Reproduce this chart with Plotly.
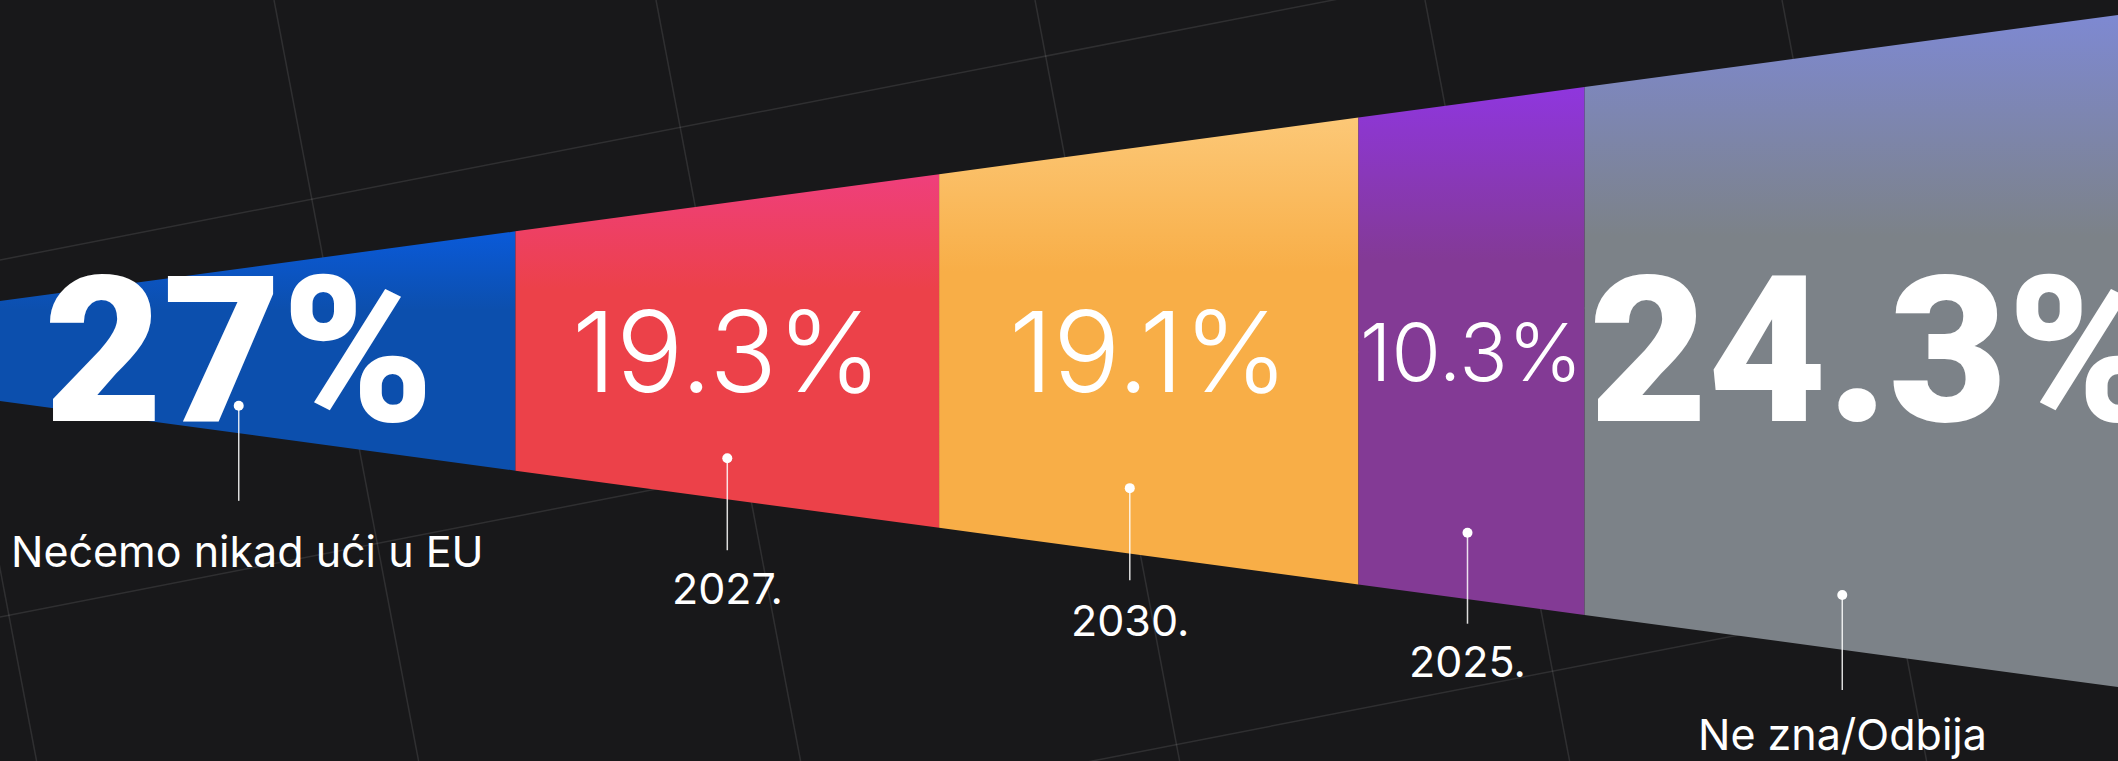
import plotly.graph_objects as go

# ---------------- data ----------------
categories = ["Nećemo nikad ući u EU", "2027.", "2030.", "2025.", "Ne zna/Odbija"]
values = [27.0, 19.3, 19.1, 10.3, 24.3]
value_labels = ["27%", "19.3%", "19.1%", "10.3%", "24.3%"]

# ---------------- style ----------------
W, H = 2118, 761
X_MIN, X_MAX = 3.52, 100.0          # visible part of the cumulative % axis
CENTER_Y = 351                       # wedge centre line (pixel rows on y axis)
HALF0 = 39.6                         # wedge half-height at 0 %
GROWTH = 2.964                       # half-height growth per %
BG = "#18181a"

colors_main = ["#0c4fad", "#ec4149", "#f8ae47", "#833a95", "#7c8288"]
colors_top = ["#0a5ad9", "#ef3f7c", "#fcc877", "#8f36de", "#7e89d2"]
heavy = [True, False, False, False, True]
pct_sizes = [205, 112, 112, 80, 205]
pct_anchor = ["center", "center", "center", "center", "left"]
pct_xshift = [-19, 0, 0, 0, 2]
pct_yshift = [0, 0, 0, 0, 0]
dot_xshift = [-19, 0, -19, -4, -9]
text_xshift = [-10, 0, -19, -4, -9]
dot_offset = [-30, -41, -68, -67, -56]      # leader dot relative to wedge bottom
line_end_offset = [65, 51, 24, 24, 39]       # leader end relative to wedge bottom
text_offset = [115, 89, 64, 61, 83]          # label centre relative to wedge bottom

FONT = "Inter"
HEAVY_FONT = "Roboto"


def half(p):
    return HALF0 + GROWTH * p


def top(p):
    return CENTER_Y - half(p)


def bottom(p):
    return CENTER_Y + half(p)


fig = go.Figure()

# background perspective grid (decorative)
grid_color = "rgba(255,255,255,0.10)"
for c in [260, 617, 974]:
    x0, x1 = 0, W
    fig.add_shape(type="line", xref="paper", yref="paper", layer="below",
                  x0=x0 / W, x1=x1 / W,
                  y0=1 - (c - 0.195 * x0) / H, y1=1 - (c - 0.195 * x1) / H,
                  line=dict(color=grid_color, width=1.5))
for x0 in [-108, 274, 656, 1035, 1425, 1782]:
    fig.add_shape(type="line", xref="paper", yref="paper", layer="below",
                  x0=x0 / W, x1=(x0 + 0.19 * H) / W, y0=1, y1=0,
                  line=dict(color=grid_color, width=1.5))

# segments
starts = []
acc = 0.0
for v in values:
    starts.append(acc)
    acc += v

for i, v in enumerate(values):
    a, b = starts[i], starts[i] + v
    fig.add_trace(go.Scatter(
        x=[a, b, b, a, a],
        y=[top(a), top(b), bottom(b), bottom(a), top(a)],
        mode="lines", fill="toself",
        line=dict(width=0, color=colors_main[i]),
        fillcolor=colors_main[i],
        fillgradient=dict(type="vertical",
                          colorscale=[[0, colors_main[i]], [0.67, colors_main[i]], [1, colors_top[i]]]),
        hoverinfo="skip", showlegend=False,
    ))

# labels
pxw = (X_MAX - X_MIN) / W              # % per pixel
for i, v in enumerate(values):
    a, b = starts[i], starts[i] + v
    mid = (max(a, X_MIN) + min(b, X_MAX)) / 2
    bt = bottom(mid)
    dx = mid + dot_xshift[i] * pxw
    tx = mid + text_xshift[i] * pxw
    # leader line + dot
    fig.add_trace(go.Scatter(
        x=[dx, dx], y=[bt + dot_offset[i], bt + line_end_offset[i]],
        mode="lines", line=dict(color="rgba(255,255,255,0.85)", width=1.5),
        hoverinfo="skip", showlegend=False))
    fig.add_trace(go.Scatter(
        x=[dx], y=[bt + dot_offset[i]], mode="markers",
        marker=dict(color="white", size=10),
        hoverinfo="skip", showlegend=False))
    fig.add_annotation(x=tx, y=bt + text_offset[i], xref="x", yref="y",
                       text=categories[i], showarrow=False,
                       xanchor="center", yanchor="middle",
                       font=dict(family=FONT, size=43, color="white", weight=400))
    # percentage text
    px = mid if pct_anchor[i] == "center" else a
    fig.add_annotation(x=px, y=CENTER_Y, xref="x", yref="y",
                       text=value_labels[i], showarrow=False,
                       xanchor=pct_anchor[i], yanchor="middle",
                       xshift=pct_xshift[i], yshift=pct_yshift[i],
                       font=dict(family=HEAVY_FONT if heavy[i] else FONT,
                                 size=pct_sizes[i], color="white",
                                 weight=900 if heavy[i] else 300))

fig.update_layout(
    width=W, height=H,
    margin=dict(l=0, r=0, t=0, b=0),
    paper_bgcolor=BG, plot_bgcolor=BG,
    xaxis=dict(range=[X_MIN, X_MAX], visible=False, fixedrange=True),
    yaxis=dict(range=[H, 0], visible=False, fixedrange=True),
    hovermode=False,
    showlegend=False,
)

fig.write_html("out.html", config={"displayModeBar": False, "staticPlot": True},
               post_script="document.body.style.margin='0';document.body.style.overflow='hidden';")
